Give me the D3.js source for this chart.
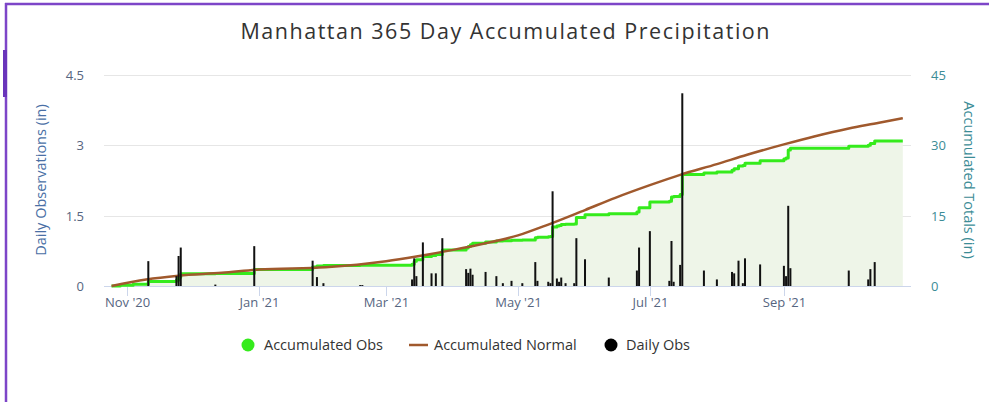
<!DOCTYPE html>
<html>
<head>
<meta charset="utf-8">
<script src="https://cdn.jsdelivr.net/npm/d3@7"></script>
<style>
  html, body { margin: 0; padding: 0; background: #fff; }
  svg { display: block; font-family: "Open Sans", "DejaVu Sans", sans-serif; }
</style>
</head>
<body>
<svg id="chart" width="989" height="402"></svg>
<script>
// Daily observations (in)
const dailyDates = ["2020-11-11","2020-11-24","2020-11-25","2020-11-26","2020-12-12","2020-12-30",
  "2021-01-26","2021-01-28","2021-01-31","2021-02-17","2021-02-18","2021-03-13","2021-03-14","2021-03-15",
  "2021-03-18","2021-03-22","2021-03-24","2021-03-27","2021-04-07","2021-04-08","2021-04-09","2021-04-10",
  "2021-04-16","2021-04-21","2021-04-24","2021-04-28","2021-05-03","2021-05-09","2021-05-10","2021-05-15",
  "2021-05-16","2021-05-17","2021-05-19","2021-05-20","2021-05-21","2021-05-23","2021-05-27","2021-05-28",
  "2021-06-01","2021-06-12","2021-06-25","2021-06-26","2021-07-01","2021-07-10","2021-07-11","2021-07-12",
  "2021-07-15","2021-07-16","2021-07-26","2021-08-01","2021-08-08","2021-08-09","2021-08-11","2021-08-13",
  "2021-08-14","2021-08-21","2021-09-01","2021-09-02","2021-09-03","2021-09-04","2021-10-01","2021-10-10",
  "2021-10-11","2021-10-13"];
const dailyValues = [0.53,0.21,0.64,0.82,0.03,0.85,
  0.54,0.19,0.06,0.02,0.02,0.14,0.59,0.21,
  0.93,0.27,0.27,1.02,0.36,0.28,0.37,0.24,
  0.30,0.21,0.06,0.11,0.06,0.51,0.11,0.09,
  0.06,2.02,0.16,0.09,0.18,0.06,0.06,1.02,
  0.57,0.18,0.33,0.82,1.17,0.11,0.96,0.09,
  0.45,4.11,0.33,0.14,0.30,0.27,0.54,0.06,
  0.59,0.46,0.43,0.21,1.71,0.38,0.33,0.14,
  0.36,0.51];

// Accumulated observations (in), value from each date on
const accDates = ["2020-10-25","2020-10-29","2020-11-04","2020-11-11","2020-11-24","2020-11-25","2020-11-26",
  "2020-12-12","2020-12-30","2021-01-26","2021-01-28","2021-01-31","2021-02-17","2021-03-13","2021-03-14",
  "2021-03-15","2021-03-18","2021-03-22","2021-03-24","2021-03-27","2021-04-07","2021-04-08","2021-04-09",
  "2021-04-10","2021-04-16","2021-04-21","2021-04-24","2021-04-28","2021-05-03","2021-05-09","2021-05-10",
  "2021-05-15","2021-05-16","2021-05-17","2021-05-19","2021-05-20","2021-05-21","2021-05-23","2021-05-27",
  "2021-05-28","2021-06-01","2021-06-12","2021-06-25","2021-06-26","2021-07-01","2021-07-10","2021-07-11",
  "2021-07-12","2021-07-15","2021-07-16","2021-07-26","2021-08-01","2021-08-08","2021-08-09","2021-08-11",
  "2021-08-13","2021-08-14","2021-08-21","2021-09-01","2021-09-02","2021-09-03","2021-09-04","2021-10-01",
  "2021-10-10","2021-10-11","2021-10-13","2021-10-26"];
const accValues = [0,0.15,0.35,0.95,1.2,1.85,2.6,
  2.65,3.5,4.05,4.25,4.35,4.45,4.65,5.3,
  5.6,6.3,6.5,6.7,7.7,8.1,8.4,8.8,
  9.1,9.4,9.6,9.65,9.75,9.8,10.3,10.4,
  10.5,10.55,12.6,12.8,12.9,13.1,13.15,13.2,
  14.6,15.2,15.4,15.8,16.7,17.9,18.1,19.0,
  19.1,19.5,23.8,24.1,24.3,24.7,25.0,25.6,
  25.7,26.2,26.7,27.1,27.3,29.0,29.4,29.8,
  30.0,30.4,30.9,30.9];

// Accumulated normal (in)
const normDates = ["2020-10-25","2020-11-10","2020-11-25","2020-12-15","2021-01-01","2021-02-01","2021-03-01",
  "2021-03-15","2021-04-01","2021-04-15","2021-05-01","2021-05-15","2021-06-01","2021-06-15","2021-07-01",
  "2021-07-15","2021-08-01","2021-08-15","2021-09-01","2021-09-15","2021-10-01","2021-10-15","2021-10-26"];
const normValues = [0,1.4,2.2,2.8,3.5,4.0,5.3,
  6.3,7.7,9.0,10.8,13.1,16.2,18.8,21.5,
  23.7,26.0,28.0,30.2,31.9,33.6,34.8,35.8];

const leftTicks = [0, 1.5, 3, 4.5];
const rightTicks = [0, 15, 30, 45];
const monthTicks = ["2020-11-01","2021-01-01","2021-03-01","2021-05-01","2021-07-01","2021-09-01"];

const parse = d3.timeParse("%Y-%m-%d");
const daily = dailyDates.map((d, i) => ({ date: parse(d), value: dailyValues[i] }));
const acc = accDates.map((d, i) => ({ date: parse(d), value: accValues[i] }));
const norm = normDates.map((d, i) => ({ date: parse(d), value: normValues[i] }));

const svg = d3.select("#chart");
const plot = { left: 104, right: 911, top: 75, bottom: 286 };

const x = d3.scaleTime()
  .domain([new Date(2020, 9, 21, 12), new Date(2021, 9, 29, 19)])
  .range([plot.left, plot.right]);
const yLeft = d3.scaleLinear().domain([0, 4.5]).range([plot.bottom, plot.top]);
const yRight = d3.scaleLinear().domain([0, 45]).range([plot.bottom, plot.top]);

// frame
svg.append("line").attr("x1", 5).attr("x2", 989).attr("y1", 4).attr("y2", 4)
  .attr("stroke", "#7d45c8").attr("stroke-width", 2.5);
svg.append("line").attr("x1", 6).attr("x2", 6).attr("y1", 3).attr("y2", 402)
  .attr("stroke", "#7d45c8").attr("stroke-width", 2.5);
svg.append("rect").attr("x", 3).attr("y", 50).attr("width", 4).attr("height", 47).attr("fill", "#6a35bb");

// title
svg.append("text").attr("x", 505).attr("y", 39).attr("text-anchor", "middle")
  .attr("font-size", 21.5).attr("fill", "#333")
  .attr("textLength", 529).attr("lengthAdjust", "spacing")
  .text("Manhattan 365 Day Accumulated Precipitation");

// gridlines
svg.append("g").selectAll("line").data(leftTicks.slice(1)).join("line")
  .attr("x1", plot.left).attr("x2", plot.right)
  .attr("y1", d => Math.round(yLeft(d)) + 0.5).attr("y2", d => Math.round(yLeft(d)) + 0.5)
  .attr("stroke", "#e6e6e6");

// accumulated obs area
const area = d3.area().curve(d3.curveStepAfter)
  .x(d => x(d.date)).y0(plot.bottom).y1(d => yRight(d.value));
svg.append("path").datum(acc).attr("d", area).attr("fill", "#eef5e8");

// x axis line and ticks
svg.append("line").attr("x1", plot.left).attr("x2", plot.right)
  .attr("y1", plot.bottom + 0.5).attr("y2", plot.bottom + 0.5).attr("stroke", "#ccd6eb");
const xTicks = svg.append("g").selectAll("g").data(monthTicks.map(parse)).join("g")
  .attr("transform", d => `translate(${Math.round(x(d)) + 0.5},0)`);
xTicks.append("line").attr("y1", plot.bottom).attr("y2", plot.bottom + 10).attr("stroke", "#ccd6eb");
xTicks.append("text").attr("y", 307).attr("text-anchor", "middle").attr("font-size", 13)
  .attr("fill", "#56657f").text(d => d3.timeFormat("%b '%y")(d));

// accumulated obs line
const stepLine = d3.line().curve(d3.curveStepAfter).x(d => x(d.date)).y(d => yRight(d.value));
svg.append("path").datum(acc).attr("d", stepLine).attr("fill", "none")
  .attr("stroke", "#35eb1c").attr("stroke-width", 3).attr("stroke-linejoin", "round");

// accumulated normal
const normLine = d3.line().curve(d3.curveMonotoneX).x(d => x(d.date)).y(d => yRight(d.value));
svg.append("path").datum(norm).attr("d", normLine).attr("fill", "none")
  .attr("stroke", "#a0592d").attr("stroke-width", 2.5);

// daily bars
svg.append("g").selectAll("rect").data(daily).join("rect")
  .attr("x", d => x(d.date) - 1).attr("width", 2)
  .attr("y", d => yLeft(d.value)).attr("height", d => plot.bottom - yLeft(d.value))
  .attr("fill", "#111");

// left axis labels
svg.append("g").selectAll("text").data(leftTicks).join("text")
  .attr("x", 84).attr("y", d => yLeft(d) + 5).attr("text-anchor", "end")
  .attr("font-size", 13).attr("fill", "#56657f").text(d => d);
svg.append("text").attr("transform", "translate(46,180) rotate(-90)").attr("text-anchor", "middle")
  .attr("font-size", 14.5).attr("fill", "#4a6fa5").text("Daily Observations (in)");

// right axis labels
svg.append("g").selectAll("text").data(rightTicks).join("text")
  .attr("x", 931).attr("y", d => yRight(d) + 5).attr("text-anchor", "start")
  .attr("font-size", 13).attr("fill", "#3c8c96").text(d => d);
svg.append("text").attr("transform", "translate(964,180) rotate(90)").attr("text-anchor", "middle")
  .attr("font-size", 14.5).attr("fill", "#3c8c96").text("Accumulated Totals (in)");

// legend
const legend = svg.append("g").attr("font-size", 14.5).attr("fill", "#333");
legend.append("circle").attr("cx", 248).attr("cy", 345).attr("r", 6.5).attr("fill", "#35eb1c");
legend.append("text").attr("x", 264).attr("y", 350).text("Accumulated Obs");
legend.append("line").attr("x1", 409).attr("x2", 428).attr("y1", 345).attr("y2", 345)
  .attr("stroke", "#a0592d").attr("stroke-width", 2.5);
legend.append("text").attr("x", 434).attr("y", 350).text("Accumulated Normal");
legend.append("circle").attr("cx", 611).attr("cy", 345).attr("r", 6.5).attr("fill", "#000");
legend.append("text").attr("x", 626).attr("y", 350).text("Daily Obs");
</script>
</body>
</html>
